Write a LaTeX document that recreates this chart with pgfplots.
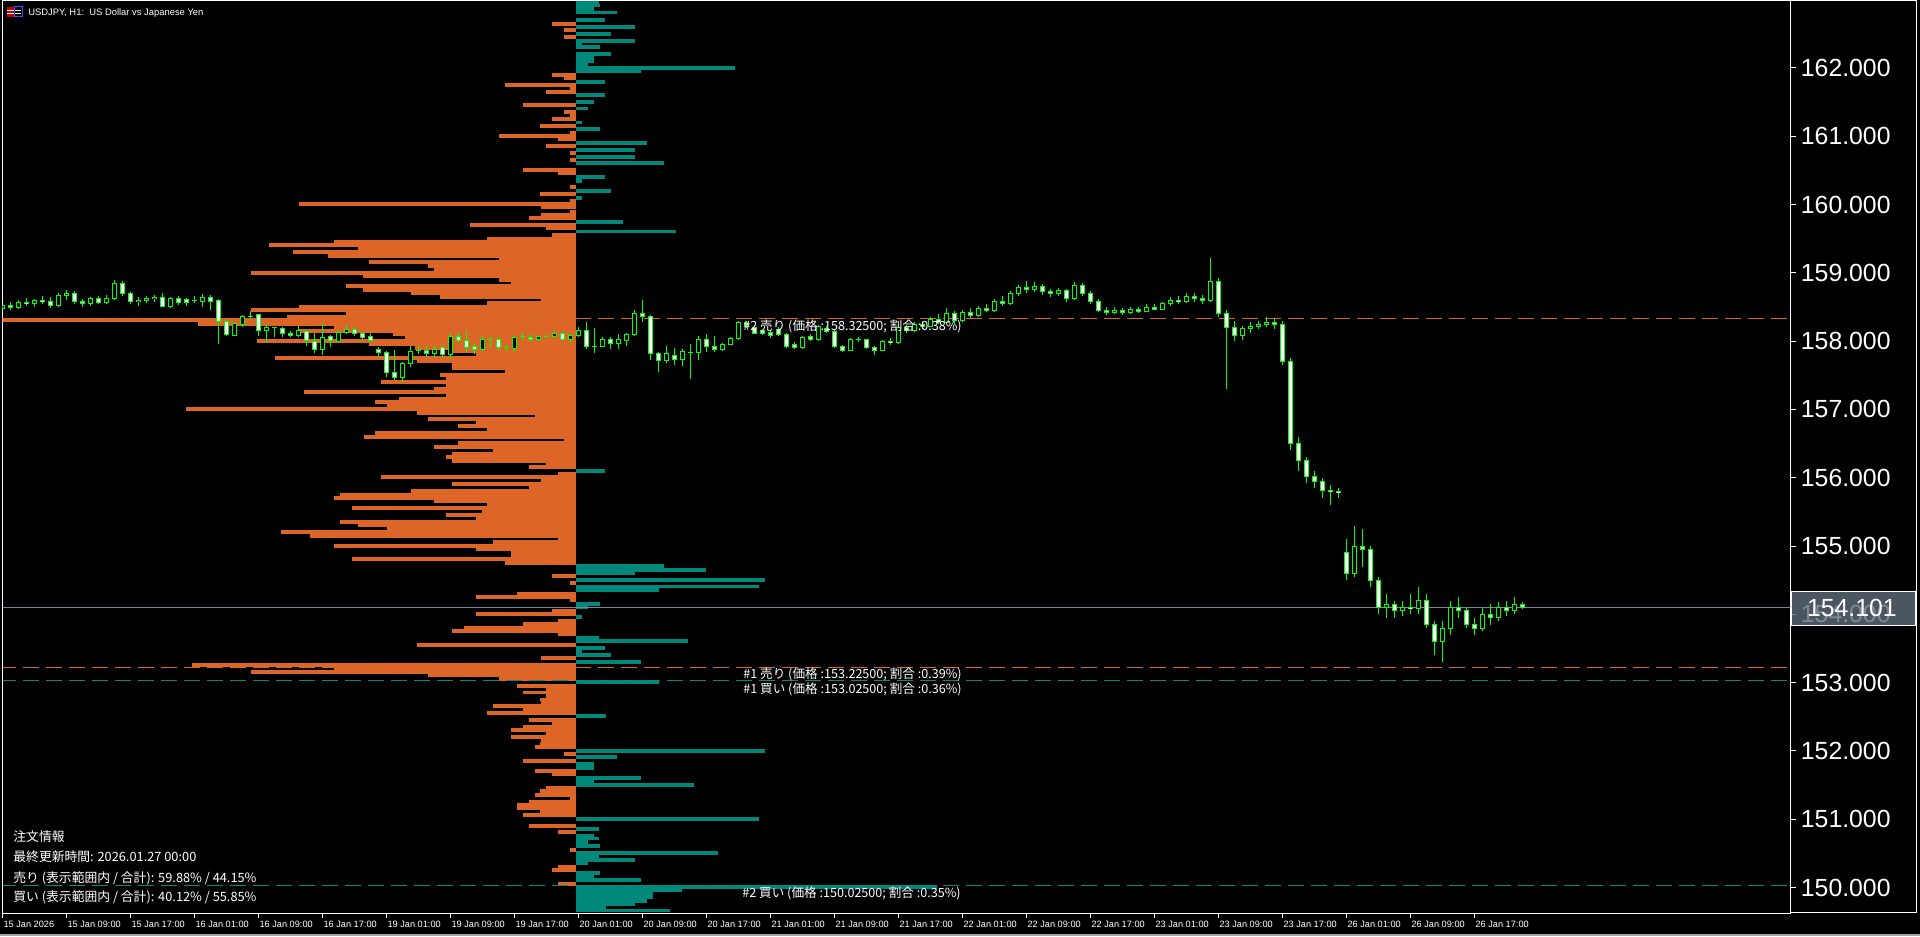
\documentclass[border=0pt]{standalone}
\usepackage{pgfplots}
\pgfplotsset{compat=1.18}
\usepackage{pgfplotstable}
\usepackage{fontspec}
\setmainfont{Liberation Sans}
\newfontfamily\jp{Noto Sans CJK JP}
\definecolor{obor}{RGB}{222,101,40}
\definecolor{obtl}{RGB}{0,137,123}
\definecolor{lnor}{RGB}{210,105,30}
\definecolor{lntl}{RGB}{0,139,125}
\definecolor{cg}{RGB}{0,255,0}
\definecolor{pricebg}{RGB}{95,108,122}
\definecolor{curline}{RGB}{119,136,153}

% sell side of the order book (price, bar length)
\pgfplotstableread{
p len
162.646 24.1
162.556 11.9
162.453 11.9
161.899 24.1
161.848 11.9
161.753 71.2
161.702 6.1
161.650 29.9
161.460 52.8
161.358 11.9
161.306 6.1
161.255 24.1
161.153 36.0
161.055 6.1
161.006 76.9
160.950 18.0
160.860 29.9
160.757 6.1
160.655 6.1
160.508 52.8
160.452 18.0
160.259 6.1
160.157 36.0
160.060 6.1
160.011 277.1
159.955 34.8
159.901 6.1
159.852 34.8
159.803 47.1
159.703 106.0
159.652 29.9
159.554 24.1
159.503 89.2
159.459 241.9
159.408 306.9
159.357 218.1
159.305 283.2
159.247 248.0
159.203 76.9
159.159 207.0
159.100 148.1
159.049 142.0
158.998 324.9
158.947 213.2
158.895 76.9
158.852 65.1
158.808 230.0
158.749 213.2
158.698 164.9
158.647 135.9
158.603 34.8
158.559 89.2
158.507 277.1
158.456 324.9
158.405 230.0
158.361 288.9
158.310 600
158.251 378.1
158.193 241.9
158.149 276.7
158.100 182.9
158.056 171.1
158.002 319.2
157.954 207.0
157.900 161.1
157.851 122.8
157.807 99.9
157.753 301.2
157.705 159.2
157.651 124.0
157.602 124.0
157.556 71.2
157.505 135.9
157.456 130.1
157.402 195.2
157.353 130.1
157.309 142.0
157.256 272.1
157.207 130.1
157.163 177.2
157.109 200.9
157.060 189.1
157.007 390.0
156.948 159.2
156.904 40.9
156.860 148.1
156.811 99.9
156.758 117.9
156.709 89.2
156.655 200.9
156.597 212.0
156.553 11.9
156.509 117.9
156.450 142.0
156.402 83.0
156.355 124.0
156.304 130.1
156.245 124.0
156.209 29.9
156.158 47.1
156.062 18.0
156.011 195.2
155.960 34.8
155.909 124.0
155.857 47.1
155.806 164.9
155.755 236.1
155.704 241.9
155.652 142.0
155.608 89.2
155.557 223.9
155.506 94.1
155.455 130.1
155.403 99.9
155.352 236.1
155.301 218.1
155.257 189.1
155.206 295.1
155.147 266.0
155.103 18.0
155.059 83.0
155.001 241.9
154.950 99.9
154.903 65.1
154.859 65.1
154.810 223.9
154.752 71.2
154.562 24.1
154.459 6.1
154.305 58.9
154.254 99.9
154.203 6.1
154.056 24.1
154.005 99.9
153.910 18.0
153.859 52.8
153.808 112.1
153.756 124.0
153.705 18.0
153.551 159.2
153.361 34.8
153.259 384.2
153.207 241.9
153.156 324.9
153.105 148.1
153.054 76.9
152.951 58.9
152.907 29.9
152.856 52.8
152.805 29.9
152.753 36.0
152.709 34.8
152.658 83.0
152.607 52.8
152.556 89.2
152.453 47.1
152.402 24.1
152.358 52.8
152.307 65.1
152.256 29.9
152.204 65.1
152.153 34.8
152.109 36.0
152.058 40.9
151.955 11.9
151.853 52.8
151.707 40.9
151.655 24.1
151.465 29.9
151.414 36.0
151.355 40.9
151.304 6.1
151.260 47.1
151.209 58.9
151.157 58.9
151.114 36.0
151.062 52.8
150.901 47.1
150.813 18.0
150.550 6.1
150.308 18.0
150.257 24.1
150.052 18.0
}\sellbook

% buy side of the order book (price, bar length)
\pgfplotstableread{
p len
162.958 22.6
162.917 23.7
162.863 17.6
162.810 40.6
162.705 29.1
162.602 58.9
162.500 34.8
162.397 58.9
162.348 5.7
162.307 24.1
162.207 34.8
162.153 17.6
162.102 17.6
162.053 11.5
162.002 159.2
161.951 65.1
161.797 29.1
161.604 29.1
161.504 17.6
161.404 11.5
161.199 5.7
161.109 24.1
160.904 71.2
160.801 58.9
160.699 58.9
160.606 88.0
160.404 29.1
160.347 5.7
160.201 34.8
160.099 5.7
159.747 47.1
159.603 99.9
156.099 29.1
154.708 88.0
154.650 130.1
154.598 58.9
154.503 189.1
154.408 182.9
154.357 83.0
154.152 24.1
154.108 11.5
153.961 5.7
153.654 23.0
153.610 112.1
153.507 29.1
153.456 5.7
153.405 34.8
153.302 65.1
153.010 83.0
152.512 29.9
152.000 189.1
151.912 40.9
151.809 17.6
151.750 17.6
151.604 65.1
151.553 17.6
151.502 117.5
151.004 182.9
150.857 23.0
150.762 17.6
150.718 23.0
150.667 11.5
150.608 24.1
150.506 142.0
150.455 23.0
150.404 58.9
150.352 11.5
150.213 24.1
150.162 17.6
150.111 65.1
150.008 361
149.957 106.0
149.913 76.9
149.862 76.9
149.803 71.2
149.752 58.9
149.708 29.9
149.664 94.1
}\buybook

% rising (and unchanged) H1 candles: index, open, high, low, close
\pgfplotstableread{
i o h l c
0 158.48 158.56 158.42 158.52
2 158.50 158.60 158.47 158.57
4 158.55 158.62 158.50 158.60
7 158.52 158.70 158.50 158.67
8 158.67 158.75 158.60 158.70
11 158.55 158.65 158.52 158.62
13 158.57 158.68 158.55 158.63
14 158.63 158.90 158.60 158.85
17 158.58 158.64 158.52 158.60
18 158.60 158.66 158.56 158.62
19 158.62 158.68 158.58 158.64
21 158.505 158.64 158.49 158.627
24 158.593 158.661 158.554 158.593
25 158.578 158.690 158.505 158.642
29 158.090 158.271 158.075 158.261
30 158.251 158.383 158.212 158.368
31 158.368 158.442 158.320 158.368
33 158.154 158.237 157.992 158.207
34 158.198 158.212 158.056 158.198
37 158.080 158.222 158.066 158.149
40 157.885 158.261 157.797 158.056
42 158.002 158.163 157.992 158.129
43 158.124 158.237 158.105 158.173
50 157.470 157.700 157.407 157.675
51 157.675 157.929 157.627 157.851
52 157.861 157.929 157.812 157.861
54 157.822 157.929 157.749 157.885
56 157.807 158.115 157.734 158.066
60 157.880 158.090 157.861 158.027
61 158.017 158.056 157.910 158.017
63 157.910 157.944 157.846 157.910
64 157.895 158.075 157.861 158.056
65 158.066 158.129 158.017 158.066
67 158.027 158.095 158.007 158.075
68 158.075 158.105 158.056 158.075
69 158.066 158.144 158.056 158.115
71 158.027 158.105 157.978 158.085
72 158.085 158.212 158.066 158.163
74 157.929 158.188 157.832 157.929
75 157.929 158.066 157.919 158.027
77 157.968 158.105 157.880 158.027
78 158.007 158.124 157.929 158.100
79 158.100 158.456 158.075 158.407
83 157.714 157.929 157.685 157.812
85 157.729 157.880 157.636 157.851
86 157.841 157.958 157.446 157.841
87 157.836 158.075 157.724 158.027
90 157.880 157.978 157.861 157.958
91 157.953 158.056 157.939 158.041
92 158.032 158.300 158.017 158.276
100 157.91 158.08 157.89 158.05
102 158.02 158.24 158.00 158.21
106 157.87 158.04 157.85 158.02
107 158.02 158.06 157.99 158.02
110 157.87 158.02 157.85 158.00
112 157.98 158.22 157.96 158.20
114 158.15 158.28 158.13 158.25
116 158.22 158.36 158.20 158.32
118 158.28 158.48 158.26 158.40
120 158.30 158.46 158.28 158.42
122 158.38 158.52 158.36 158.48
124 158.45 158.62 158.43 158.58
126 158.55 158.73 158.53 158.70
127 158.70 158.82 158.66 158.78
129 158.75 158.86 158.72 158.80
132 158.70 158.78 158.66 158.74
134 158.62 158.86 158.60 158.82
139 158.42 158.50 158.40 158.45
141 158.42 158.50 158.40 158.46
143 158.44 158.54 158.42 158.50
145 158.47 158.58 158.45 158.55
146 158.55 158.64 158.52 158.60
148 158.58 158.70 158.56 158.65
151 158.60 159.22 158.58 158.88
155 158.08 158.22 158.02 158.18
156 158.18 158.28 158.12 158.22
157 158.22 158.30 158.18 158.25
158 158.25 158.35 158.20 158.28
169 154.60 155.30 154.55 155.00
173 154.10 154.30 153.95 154.15
175 154.05 154.20 153.98 154.10
177 154.08 154.40 154.00 154.20
180 153.60 153.90 153.30 153.80
181 153.80 154.20 153.70 154.10
185 153.80 154.10 153.75 154.00
187 153.95 154.18 153.90 154.10
189 154.05 154.25 154.00 154.15
}\bull

% falling H1 candles: index, open, high, low, close
\pgfplotstableread{
i o h l c
1 158.52 158.58 158.46 158.50
3 158.57 158.63 158.52 158.55
5 158.60 158.66 158.55 158.58
6 158.58 158.64 158.49 158.52
9 158.70 158.73 158.55 158.58
10 158.58 158.62 158.50 158.55
12 158.62 158.66 158.54 158.57
15 158.85 158.88 158.66 158.70
16 158.70 158.72 158.55 158.58
20 158.64 158.70 158.50 158.51
22 158.627 158.661 158.529 158.564
23 158.603 158.627 158.515 158.568
26 158.642 158.676 158.456 158.578
27 158.588 158.617 157.958 158.295
28 158.295 158.310 158.075 158.100
32 158.383 158.398 158.075 158.163
35 158.188 158.212 158.066 158.115
36 158.115 158.149 158.056 158.085
38 158.139 158.149 157.929 158.007
39 157.992 158.124 157.832 157.885
41 158.061 158.090 157.919 158.007
44 158.173 158.202 158.075 158.115
45 158.115 158.139 158.027 158.056
46 158.061 158.115 157.997 158.012
47 157.885 157.919 157.773 157.836
48 157.836 157.861 157.480 157.543
49 157.543 157.871 157.431 157.470
53 157.866 157.929 157.749 157.822
55 157.900 157.929 157.773 157.807
57 158.066 158.139 157.992 158.012
58 158.012 158.163 157.846 157.905
59 157.915 157.968 157.812 157.880
62 158.017 158.041 157.871 157.910
66 158.056 158.105 157.992 158.027
70 158.115 158.139 158.007 158.027
73 158.158 158.276 157.885 157.919
76 158.027 158.056 157.880 157.968
80 158.407 158.603 158.285 158.358
81 158.368 158.383 157.724 157.812
82 157.812 157.846 157.553 157.714
84 157.792 157.895 157.651 157.734
88 158.027 158.105 157.846 157.919
89 157.929 158.075 157.846 157.880
93 158.27 158.30 158.19 158.23
94 158.197 158.212 158.105 158.115
95 158.154 158.17 158.09 158.115
96 158.12 158.16 158.05 158.09
97 158.17 158.20 158.08 158.10
98 158.10 158.12 157.90 157.92
99 157.95 157.99 157.88 157.91
101 158.07 158.10 158.00 158.02
103 158.19 158.22 158.12 158.14
104 158.14 158.16 157.90 157.92
105 157.92 157.95 157.84 157.87
108 158.02 158.03 157.89 157.91
109 157.91 157.93 157.80 157.87
111 158.00 158.04 157.95 157.98
113 158.20 158.24 158.12 158.15
115 158.25 158.30 158.18 158.22
117 158.32 158.40 158.25 158.28
119 158.40 158.44 158.25 158.30
121 158.42 158.48 158.34 158.38
123 158.48 158.55 158.42 158.45
125 158.58 158.66 158.52 158.55
128 158.78 158.88 158.70 158.75
130 158.80 158.84 158.68 158.72
131 158.72 158.76 158.65 158.70
133 158.74 158.76 158.58 158.62
135 158.82 158.85 158.66 158.70
136 158.70 158.74 158.55 158.58
137 158.58 158.62 158.42 158.45
138 158.45 158.50 158.38 158.42
140 158.45 158.48 158.38 158.42
142 158.46 158.50 158.41 158.44
144 158.50 158.55 158.45 158.47
147 158.60 158.66 158.55 158.58
149 158.65 158.70 158.58 158.62
150 158.62 158.68 158.55 158.60
152 158.88 158.92 158.36 158.40
153 158.40 158.45 157.30 158.20
154 158.20 158.30 158.00 158.08
159 158.28 158.34 158.18 158.24
160 158.24 158.30 157.65 157.70
161 157.70 157.75 156.40 156.50
162 156.50 156.60 156.10 156.25
163 156.25 156.30 155.92 156.02
164 156.02 156.10 155.85 155.95
165 155.95 156.00 155.70 155.82
166 155.82 155.90 155.60 155.80
167 155.80 155.85 155.70 155.78
168 154.90 155.10 154.50 154.60
170 155.00 155.25 154.70 154.95
171 154.95 155.00 154.40 154.50
172 154.50 154.55 154.00 154.10
174 154.15 154.20 153.95 154.05
176 154.10 154.30 154.00 154.08
178 154.20 154.30 153.80 153.85
179 153.85 153.90 153.40 153.60
182 154.10 154.25 153.95 154.05
183 154.05 154.10 153.80 153.85
184 153.85 153.95 153.70 153.80
186 154.00 154.15 153.85 153.95
188 154.10 154.20 153.98 154.05
190 154.15 154.18 154.08 154.101
}\bear

\begin{document}
\begin{tikzpicture}
\fill[black] (0,0) rectangle (960pt,468pt);
\useasboundingbox (0,0) rectangle (960pt,468pt);
\begin{axis}[
  at={(1.25pt,11.5pt)}, anchor=south west,
  scale only axis, width=894pt, height=456pt,
  xmin=2.5, xmax=1790.5, ymin=149.6276, ymax=162.9804,
  axis line style={white, line width=0.5pt},
  tick align=outside, major tick length=2.5pt,
  tick style={white, line width=0.5pt},
  xtick pos=lower, ytick pos=upper,
  xtick={2.55,66.55,130.55,194.55,258.55,322.55,386.55,450.55,514.55,578.55,642.55,706.55,770.55,834.55,898.55,962.55,1026.55,1090.55,1154.55,1218.55,1282.55,1346.55,1410.55,1474.55},
  xticklabels={15 Jan 2026,15 Jan 09:00,15 Jan 17:00,16 Jan 01:00,16 Jan 09:00,16 Jan 17:00,19 Jan 01:00,19 Jan 09:00,19 Jan 17:00,20 Jan 01:00,20 Jan 09:00,20 Jan 17:00,21 Jan 01:00,21 Jan 09:00,21 Jan 17:00,22 Jan 01:00,22 Jan 09:00,22 Jan 17:00,23 Jan 01:00,23 Jan 09:00,23 Jan 17:00,26 Jan 01:00,26 Jan 09:00,26 Jan 17:00},
  xticklabel style={font=\fontsize{4.6}{5}\selectfont, text=white, anchor=west, inner sep=0pt, xshift=0.3pt, yshift=-3pt},
  ytick={150,151,152,153,154,155,156,157,158,159,160,161,162},
  yticklabels={150.000,151.000,152.000,153.000,154.000,155.000,156.000,157.000,158.000,159.000,160.000,161.000,162.000},
  yticklabel style={font=\fontsize{12.4}{14}\selectfont, text=white, anchor=west, inner sep=0pt, xshift=2.5pt},
  axis background/.style={fill=black},
]
% order book bars
\addplot[obor, line width=1.72pt, quiver={u={-\thisrow{len}}, v=0}] table[x expr=576, y=p] {\sellbook};
\addplot[obtl, line width=1.72pt, quiver={u={\thisrow{len}}, v=0}] table[x expr=576, y=p] {\buybook};
% order levels
\addplot[lnor, line width=0.5pt, dash pattern=on 8pt off 3.5pt] coordinates {(0,158.325) (1790.5,158.325)};
\addplot[lnor, line width=0.5pt, dash pattern=on 8pt off 3.5pt] coordinates {(0,153.225) (1790.5,153.225)};
\addplot[lntl, line width=0.5pt, dash pattern=on 8pt off 3.5pt] coordinates {(0,153.025) (1790.5,153.025)};
\addplot[lntl, line width=0.5pt, dash pattern=on 8pt off 3.5pt] coordinates {(0,150.025) (1790.5,150.025)};
% current price
\addplot[curline, line width=0.5pt] coordinates {(0,154.101) (1790.5,154.101)};
% candles: wicks
\addplot[cg, line width=0.5pt, quiver={u=0, v={\thisrow{h}-\thisrow{l}}}] table[x expr={2.55+8*\thisrow{i}}, y=l] {\bull};
\addplot[cg, line width=0.5pt, quiver={u=0, v={\thisrow{h}-\thisrow{l}}}] table[x expr={2.55+8*\thisrow{i}}, y=l] {\bear};
% candles: body outlines
\addplot[cg, line width=2.5pt, quiver={u=0, v={abs(\thisrow{c}-\thisrow{o})+0.0146}}] table[x expr={2.55+8*\thisrow{i}}, y expr={min(\thisrow{o},\thisrow{c})-0.0073}] {\bull};
\addplot[cg, line width=2.5pt, quiver={u=0, v={abs(\thisrow{c}-\thisrow{o})+0.0146}}] table[x expr={2.55+8*\thisrow{i}}, y expr={min(\thisrow{o},\thisrow{c})-0.0073}] {\bear};
% candles: body fills
\addplot[black, line width=1.5pt, quiver={u=0, v={max(abs(\thisrow{c}-\thisrow{o})-0.0146,0)}}] table[x expr={2.55+8*\thisrow{i}}, y expr={min(\thisrow{o},\thisrow{c})+0.0073}] {\bull};
\addplot[white, line width=1.5pt, quiver={u=0, v={max(abs(\thisrow{c}-\thisrow{o})-0.0146,0)}}] table[x expr={2.55+8*\thisrow{i}}, y expr={min(\thisrow{o},\thisrow{c})+0.0073}] {\bear};
\end{axis}
% outer frame of the price scale
\draw[white, line width=0.5pt] (895.25pt,467.5pt) -- (958.35pt,467.5pt) -- (958.35pt,11.5pt) -- (895.25pt,11.5pt);
\fill[gray!70] (0,0) rectangle (960pt,1pt);
% current price box
\fill[pricebg, fill opacity=0.8] (895.85pt,155.15pt) rectangle (957.5pt,172.15pt);
\draw[white, line width=0.5pt] (895.85pt,155.15pt) rectangle (957.5pt,172.15pt);
\node[anchor=west, inner sep=0pt, text=white, font=\fontsize{12.4}{14}\selectfont] at (903.35pt,164.15pt) {154.101};
% title
\fill[red!75!black] (3.5pt,459.5pt) rectangle (7pt,464.5pt);
\draw[white, line width=0.4pt] (3.5pt,461.5pt) -- (7pt,461.5pt) (3.5pt,463pt) -- (7pt,463pt);
\draw[blue!70!white, line width=0.5pt] (7pt,459.5pt) rectangle (11pt,464.5pt);
\draw[white, line width=0.4pt] (7.7pt,461.5pt) -- (10.3pt,461.5pt) (7.7pt,463pt) -- (10.3pt,463pt);
\node[anchor=west, inner sep=0pt, text=white, font=\fontsize{4.7}{5}\selectfont] at (14pt,461.65pt) {USDJPY, H1:\ \ US Dollar vs Japanese Yen};
% order labels
\node[anchor=west, inner sep=0pt, text=white, font=\jp\fontsize{6.3}{8}\selectfont] at (371.5pt,304.65pt) {\#2 売り (価格 :158.32500; 割合 :0.38\%)};
\node[anchor=west, inner sep=0pt, text=white, font=\jp\fontsize{6.3}{8}\selectfont] at (371.5pt,131pt) {\#1 売り (価格 :153.22500; 割合 :0.39\%)};
\node[anchor=west, inner sep=0pt, text=white, font=\jp\fontsize{6.3}{8}\selectfont] at (371.5pt,123.35pt) {\#1 買い (価格 :153.02500; 割合 :0.36\%)};
\node[anchor=west, inner sep=0pt, text=white, font=\jp\fontsize{6.3}{8}\selectfont] at (371pt,21.35pt) {\#2 買い (価格 :150.02500; 割合 :0.35\%)};
% info panel
\node[anchor=west, inner sep=0pt, text=white, font=\jp\fontsize{6.4}{8}\selectfont] at (6.5pt,49.65pt) {注文情報};
\node[anchor=west, inner sep=0pt, text=white, font=\jp\fontsize{6.4}{8}\selectfont] at (6.5pt,39.65pt) {最終更新時間: 2026.01.27 00:00};
\node[anchor=west, inner sep=0pt, text=white, font=\jp\fontsize{6.4}{8}\selectfont] at (6.5pt,28.85pt) {売り (表示範囲内 / 合計): 59.88\% / 44.15\%};
\node[anchor=west, inner sep=0pt, text=white, font=\jp\fontsize{6.4}{8}\selectfont] at (6.5pt,19.35pt) {買い (表示範囲内 / 合計): 40.12\% / 55.85\%};
\end{tikzpicture}
\end{document}
